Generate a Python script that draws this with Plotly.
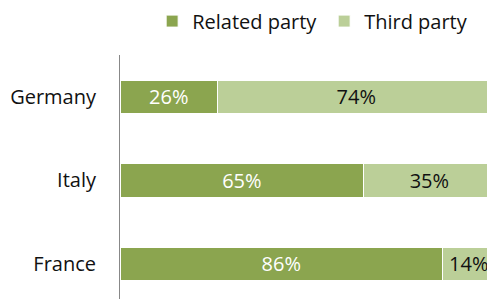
import plotly.graph_objects as go

countries = ["France", "Italy", "Germany"]
related = [86, 65, 26]
third = [14, 35, 74]
series_names = ["Related party", "Third party"]
colors = ["#8BA54F", "#BBCF98"]

FONT = "Open Sans"

fig = go.Figure()
fig.add_trace(go.Bar(
    y=countries, x=[v / 100 for v in related], orientation="h", name=series_names[0],
    marker=dict(color=colors[0], line=dict(color="white", width=1)),
    text=[f"{v}%" for v in related], textposition="inside", insidetextanchor="middle",
    textfont=dict(color="white", size=20, family=FONT),
))
fig.add_trace(go.Bar(
    y=countries, x=[v / 100 for v in third], orientation="h", name=series_names[1],
    marker=dict(color=colors[1], line=dict(color="white", width=1)),
    text=[f"{v}%" for v in third], textposition="inside", insidetextanchor="middle",
    textfont=dict(color="#111111", size=20, family=FONT),
))

fig.update_layout(
    width=487, height=291,
    barmode="stack", bargap=0.6,
    margin=dict(l=112, r=0, t=47, b=0),
    paper_bgcolor="white", plot_bgcolor="white",
    font=dict(family=FONT, size=20, color="#111111"),
    showlegend=True,
    legend=dict(orientation="h", xref="container", x=0.296, xanchor="left",
                yref="container", y=0.955, yanchor="middle",
                font=dict(size=20), itemwidth=30, traceorder="normal",
                entrywidth=127),
    uniformtext=dict(minsize=8, mode="show"),
)
fig.update_xaxes(range=[0, 1], showgrid=False, showticklabels=False, zeroline=False,
                 showline=False, ticks="")
fig.update_yaxes(categoryorder="array", categoryarray=countries, range=[-0.42, 2.5],
                 showgrid=False, showline=True, linecolor="#888888", linewidth=1,
                 ticks="", ticklabelstandoff=19)

fig.write_html("out.html")
